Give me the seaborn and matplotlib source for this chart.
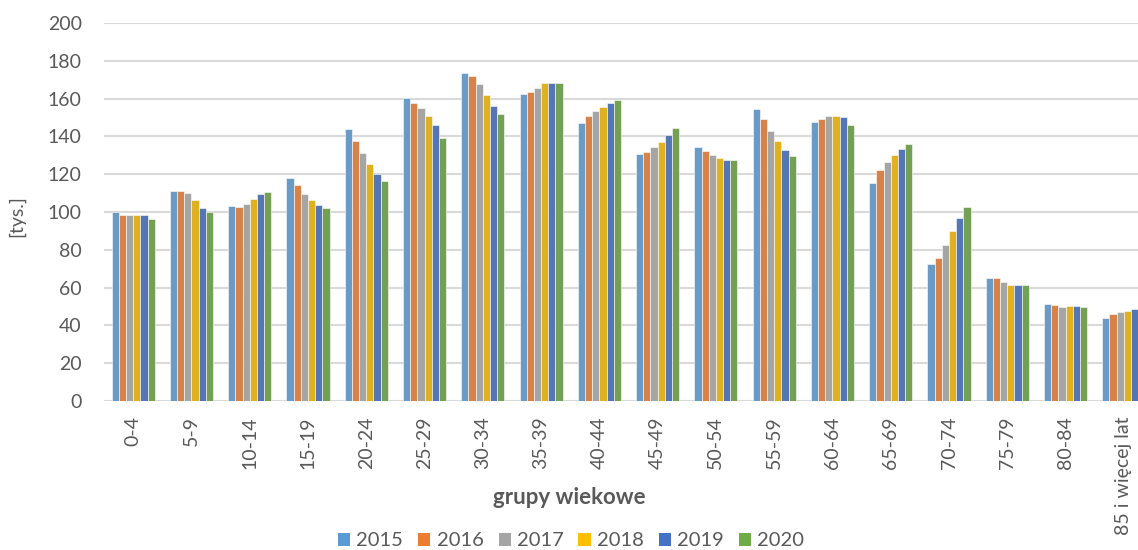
import matplotlib
matplotlib.use("Agg")
import matplotlib.pyplot as plt
import seaborn as sns
import pandas as pd
from matplotlib.patches import Patch

groups = ["0-4", "5-9", "10-14", "15-19", "20-24", "25-29", "30-34", "35-39",
          "40-44", "45-49", "50-54", "55-59", "60-64", "65-69", "70-74",
          "75-79", "80-84", "85 i więcej lat"]
years = ["2015", "2016", "2017", "2018", "2019", "2020"]

v2015 = [100.2, 111.2, 103.0, 118.2, 143.9, 160.3, 173.8, 162.4, 147.1, 130.7,
         134.4, 154.3, 147.7, 115.4, 72.7, 65.1, 51.3, 43.9]
v2016 = [98.4, 111.2, 102.5, 114.2, 137.7, 157.6, 172.1, 163.3, 150.8, 131.5,
         132.3, 149.4, 149.2, 122.2, 75.5, 64.9, 50.6, 46.0]
v2017 = [98.2, 110.0, 104.2, 109.6, 131.2, 155.0, 167.9, 165.4, 153.2, 134.2,
         130.4, 142.9, 151.0, 126.4, 82.6, 63.0, 49.9, 47.2]
v2018 = [98.6, 106.1, 106.7, 106.5, 125.4, 150.6, 161.9, 168.2, 155.5, 137.3,
         128.4, 137.6, 151.0, 130.3, 90.0, 61.6, 50.2, 47.6]
v2019 = [98.2, 102.3, 109.7, 103.9, 120.0, 145.8, 156.2, 168.4, 157.5, 140.8,
         127.7, 132.8, 150.2, 133.5, 96.7, 61.4, 50.2, 48.7]
v2020 = [96.5, 100.0, 110.8, 102.3, 116.4, 139.3, 152.0, 168.2, 159.2, 144.4,
         127.5, 129.6, 146.0, 135.9, 102.7, 61.4, 49.5, 49.6]

colors = ["#5B9BD5", "#ED7D31", "#A5A5A5", "#FFC000", "#4472C4", "#70AD47"]

series = [v2015, v2016, v2017, v2018, v2019, v2020]
rows = []
for y, vals in zip(years, series):
    for g, v in zip(groups, vals):
        rows.append({"grupa": g, "rok": y, "val": v})
df = pd.DataFrame(rows)

sns.set_style("white")
plt.rcParams["font.family"] = ["Lato", "DejaVu Sans"]

W, H = 1138, 550
fig = plt.figure(figsize=(W / 100, H / 100), dpi=100)
# plot area is wider than the picture: the last bar is cut at the right edge
ax = fig.add_axes([104 / W, (H - 401) / H, 1049 / W, 378 / H])

sns.barplot(data=df, x="grupa", y="val", hue="rok", palette=colors,
            hue_order=years, order=groups, width=0.74, gap=0.0,
            edgecolor="white", linewidth=0.4, ax=ax, legend=False, zorder=3)

ax.set_xlim(-0.5, len(groups) - 0.5)
ax.set_ylim(0, 200)
ax.set_yticks(range(0, 201, 20))
ax.yaxis.grid(True, color="#D9D9D9", linewidth=1.5, zorder=0)
ax.set_axisbelow(True)
for s in ax.spines.values():
    s.set_visible(False)
ax.tick_params(axis="both", length=0, colors="#595959", labelsize=14)
ax.tick_params(axis="y", pad=16)
ax.tick_params(axis="x", pad=11)
plt.setp(ax.get_xticklabels(), rotation=90, ha="center", va="top")
ax.set_xlabel("")
ax.set_ylabel("")

fig.text(569 / W, 1 - 497 / H, "grupy wiekowe", ha="center", va="center",
         fontsize=16, fontweight="bold", color="#595959")
fig.text(17 / W, 1 - 216 / H, "[tys.]", ha="center", va="center",
         rotation=90, fontsize=14, color="#595959")

handles = [Patch(facecolor=c, edgecolor="none") for c in colors]
fig.legend(handles, years, loc="center", bbox_to_anchor=(571 / W, 1 - 541 / H),
           ncol=6, frameon=False, fontsize=14.5, labelcolor="#595959",
           handlelength=0.6, handleheight=0.6, handletextpad=0.3,
           columnspacing=0.75)

fig.savefig("out.png", dpi=100)
